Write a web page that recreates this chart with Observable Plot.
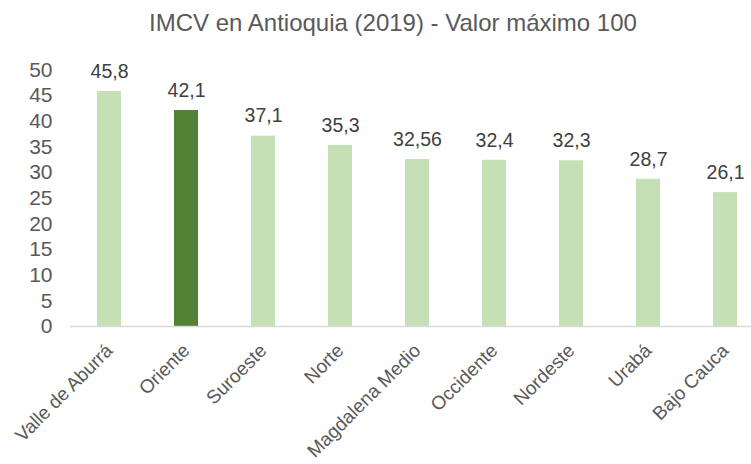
<!DOCTYPE html>
<html>
<head>
<meta charset="utf-8">
<script src="https://cdn.jsdelivr.net/npm/d3@7"></script>
<script src="https://cdn.jsdelivr.net/npm/@observablehq/plot@0.6"></script>
<style>
  html, body { margin: 0; padding: 0; background: #ffffff; }
  #title {
    width: 751px; height: 40px; box-sizing: border-box;
    padding-top: 9px; padding-left: 35px;
    font-family: "Liberation Sans", Arial, sans-serif;
    font-size: 24px; line-height: 27px; color: #595959;
    text-align: center; white-space: nowrap;
  }
</style>
</head>
<body>
<div id="title"></div>
<div id="chart"></div>
<script>
const title = "IMCV en Antioquia (2019) - Valor máximo 100";
const categories = ["Valle de Aburrá", "Oriente", "Suroeste", "Norte", "Magdalena Medio", "Occidente", "Nordeste", "Urabá", "Bajo Cauca"];
const values = [45.8, 42.1, 37.1, 35.3, 32.56, 32.4, 32.3, 28.7, 26.1];
const valueLabels = ["45,8", "42,1", "37,1", "35,3", "32,56", "32,4", "32,3", "28,7", "26,1"];
const highlighted = "Oriente";
const yTicks = [0, 5, 10, 15, 20, 25, 30, 35, 40, 45, 50];

const lightGreen = "#c5e0b4";
const darkGreen = "#548235";

const data = categories.map((name, i) => ({name, value: values[i], label: valueLabels[i]}));

document.getElementById("title").textContent = title;

const chart = Plot.plot({
  width: 751,
  height: 424,
  marginTop: 29.5,
  marginBottom: 138,
  marginLeft: 70,
  marginRight: 0,
  style: {
    fontFamily: "'Liberation Sans', Arial, sans-serif",
    fontSize: "19px",
    color: "#595959",
    background: "#ffffff"
  },
  x: {domain: categories, range: [70.5, 764.2], paddingInner: 0.69, paddingOuter: 0.345, label: null},
  y: {domain: [0, 50], label: null},
  marks: [
    Plot.axisY({ticks: yTicks, tickSize: 0, tickPadding: 18, fontSize: 21, tickFormat: d => String(d), label: null}),
    Plot.axisX({tickSize: 0, tickRotate: -45, tickPadding: 21, fontSize: 19, label: null}),
    Plot.barY(data, {filter: d => d.name !== highlighted, x: "name", y: "value", fill: lightGreen}),
    Plot.barY(data, {filter: d => d.name === highlighted, x: "name", y: "value", fill: darkGreen}),
    Plot.ruleY([0], {stroke: "#d9d9d9", strokeWidth: 1.5}),
    Plot.text(data, {x: "name", y: "value", text: "label", dy: -20, fontSize: 19.5, fill: "#404040"})
  ]
});
document.getElementById("chart").appendChild(chart);
</script>
</body>
</html>
